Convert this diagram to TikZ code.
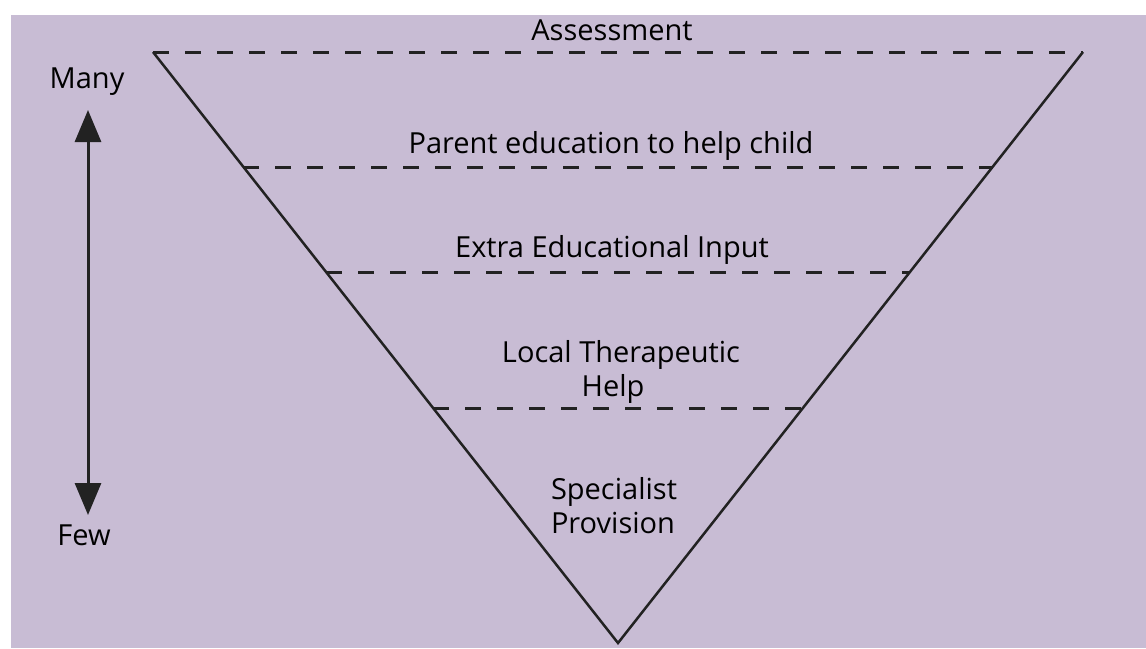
\documentclass[tikz,border=0pt]{standalone}
\usepackage{fontspec}
\setmainfont{Open Sans}
\usetikzlibrary{arrows.meta,calc}
\definecolor{bgl}{RGB}{200,188,212}
\definecolor{ink}{RGB}{34,34,34}
\tikzset{
  lbl/.style={anchor=base, inner sep=0pt, font=\fontsize{29}{34}\selectfont, text=black},
  side/.style={draw=ink, line width=2.5pt, line join=miter},
  level/.style={draw=ink, line width=3pt, dash pattern=on 16pt off 16pt},
  scalearrow/.style={draw=ink, line width=3pt, {Triangle[width=26pt,length=32pt]}-{Triangle[width=26pt,length=32pt]}},
}
\begin{document}
\begin{tikzpicture}[x=1pt,y=-1pt]
\useasboundingbox (0,0) rectangle (1146,648);
\fill[bgl] (11,15) rectangle (1146,648);
% triangle corners
\coordinate (tl) at (153,52);
\coordinate (tr) at (1083,52);
\coordinate (ap) at (618,643);
% level points on the sides
\coordinate (l2) at ($(tl)!0.19459!(ap)$);
\coordinate (r2) at ($(tr)!0.19459!(ap)$);
\coordinate (l3) at ($(tl)!0.37225!(ap)$);
\coordinate (r3) at ($(tr)!0.37225!(ap)$);
\coordinate (l4) at ($(tl)!0.60237!(ap)$);
\coordinate (r4) at ($(tr)!0.60237!(ap)$);
% dashed levels
\draw[level] (tl) -- (tr);
\draw[level] (l2) -- (r2);
\draw[level] (l3) -- (r3);
\draw[level] (l4) -- (r4);
% sides
\draw[side] (tl) -- (ap) -- (tr);
% labels
\node[lbl] (assess) at (612,40) {Assessment};
\node[lbl] (parent) at (611,153) {Parent education to help child};
\node[lbl] (extra) at (612,257) {Extra Educational Input};
\node[lbl] (local) at (621,362) {Local Therapeutic};
\node[lbl] (help) at (613,396) {Help};
\node[lbl] (spec) at (614,499) {Specialist};
\node[lbl] (prov) at (613,533) {Provision};
\node[lbl] (many) at (87,88) {Many};
\node[lbl] (few) at (84,545) {Few};
% scale arrow
\coordinate (atop) at (88,110);
\coordinate (abot) at (88,515);
\draw[scalearrow] (atop) -- (abot);
\end{tikzpicture}
\end{document}
